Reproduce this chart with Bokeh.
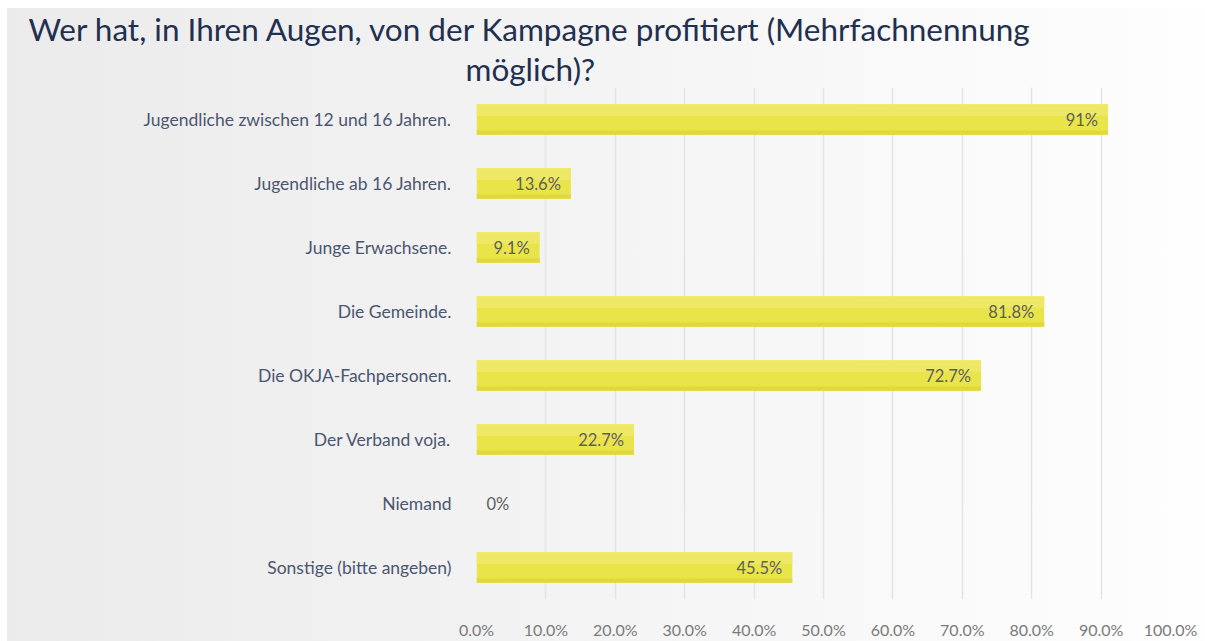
from bokeh.plotting import figure
from bokeh.models import ColumnDataSource, Title, FixedTicker, Range1d, FactorRange
from bokeh.transform import dodge
from bokeh.core.properties import value
from bokeh.embed import file_html
from bokeh.resources import INLINE

categories = [
    "Jugendliche zwischen 12 und 16 Jahren.",
    "Jugendliche ab 16 Jahren.",
    "Junge Erwachsene.",
    "Die Gemeinde.",
    "Die OKJA-Fachpersonen.",
    "Der Verband voja.",
    "Niemand",
    "Sonstige (bitte angeben)",
]
values = [91.0, 13.6, 9.1, 81.8, 72.7, 22.7, 0.0, 45.5]
value_labels = ["91%", "13.6%", "9.1%", "81.8%", "72.7%", "22.7%", "0%", "45.5%"]
x_ticks = [0, 10, 20, 30, 40, 50, 60, 70, 80, 90, 100]
x_tick_labels = ["0.0%", "10.0%", "20.0%", "30.0%", "40.0%", "50.0%",
                 "60.0%", "70.0%", "80.0%", "90.0%", "100.0%"]
title_lines = ["Wer hat, in Ihren Augen, von der Kampagne profitiert (Mehrfachnennung",
               "möglich)?"]

FONT = "Lato"

p = figure(
    width=1205, height=641,
    y_range=FactorRange(*reversed(categories)),
    x_range=Range1d(0, 100),
    output_backend="svg", toolbar_location=None,
    min_border_left=476, min_border_right=35, min_border_top=87, min_border_bottom=39,
)
p.styles = {
    "background": "linear-gradient(to bottom, #ffffff 8px, rgba(255,255,255,0) 8px), "
                  "linear-gradient(to right, #ffffff 7px, #ebebeb 7px, #f3f3f3 45%, #fcfcfc 90%, #fefefe 100%)"
}
p.background_fill_alpha = 0
p.border_fill_alpha = 0
p.outline_line_color = None

src = ColumnDataSource(dict(cat=categories, val=values, lbl=value_labels))
BAR_H = 0.48
# base bar
p.hbar(y="cat", right="val", left=0, height=BAR_H, source=src,
       fill_color="#eae44b", line_color=None)
# lighter upper band and darker lower band to mimic the vertical gradient
p.hbar(y=dodge("cat", 0.15, range=p.y_range), right="val", left=0, height=0.18, source=src,
       fill_color="#eee96f", fill_alpha=0.75, line_color=None)
p.hbar(y=dodge("cat", -0.205, range=p.y_range), right="val", left=0, height=0.07, source=src,
       fill_color="#ddd53b", fill_alpha=0.8, line_color=None)

nz = [i for i, v in enumerate(values) if v > 0]
zz = [i for i, v in enumerate(values) if v == 0]
src_nz = ColumnDataSource(dict(cat=[categories[i] for i in nz], val=[values[i] for i in nz],
                               lbl=[value_labels[i] for i in nz]))
src_z = ColumnDataSource(dict(cat=[categories[i] for i in zz], val=[values[i] for i in zz],
                              lbl=[value_labels[i] for i in zz]))
p.text(x="val", y="cat", text="lbl", source=src_nz, text_align="right", text_baseline="middle",
       x_offset=-10, text_font=value(FONT), text_font_size="16.5px", text_color="#5e5e5e")
p.text(x="val", y="cat", text="lbl", source=src_z, text_align="left", text_baseline="middle",
       x_offset=10, text_font=value(FONT), text_font_size="16.5px", text_color="#5e5e5e")

# axes
p.xaxis.ticker = FixedTicker(ticks=x_ticks)
p.xaxis.major_label_overrides = {t: l for t, l in zip(x_ticks, x_tick_labels)}
p.xaxis.axis_line_color = None
p.xaxis.major_tick_line_color = None
p.xaxis.minor_tick_line_color = None
p.xaxis.major_label_standoff = 14
p.xaxis.major_label_text_font = FONT
p.xaxis.major_label_text_font_size = "16px"
p.xaxis.major_label_text_color = "#7a7a7a"

p.yaxis.axis_line_color = None
p.yaxis.major_tick_line_color = None
p.yaxis.major_label_standoff = 19
p.yaxis.major_label_text_font = FONT
p.yaxis.major_label_text_font_size = "17.5px"
p.yaxis.major_label_text_color = "#4b5670"

p.ygrid.grid_line_color = None
p.xgrid.grid_line_color = "#e4e4e4"
p.xgrid.grid_line_width = 1.5

# title: two lines, second one added first (closest to the frame)
p.add_layout(Title(text=title_lines[1], align="left", offset=-11, standoff=0,
                   text_font=FONT, text_font_size="31.5px", text_font_style="normal",
                   text_color="#1f3050"), "above")
p.add_layout(Title(text=title_lines[0], align="left", offset=-448, standoff=0,
                   text_font=FONT, text_font_size="31.5px", text_font_style="normal",
                   text_color="#1f3050"), "above")

open("out.html", "w").write(file_html(p, INLINE))
